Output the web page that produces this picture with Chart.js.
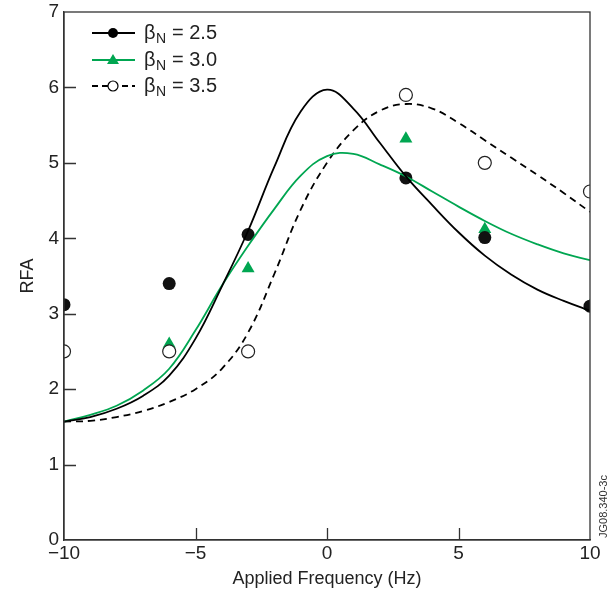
<!DOCTYPE html>
<html>
<head>
<meta charset="utf-8">
<script src="https://cdn.jsdelivr.net/npm/chart.js@4"></script>
<style>
  html, body { margin: 0; padding: 0; background: #fff; }
  #wrap { width: 615px; height: 599px; }
</style>
</head>
<body>
<div id="wrap"><canvas id="myChart"></canvas></div>
<script>
// measured points
var pointX = [-10, -6, -3, 3, 6, 10];
var beta25 = [3.12, 3.4, 4.05, 4.8, 4.01, 3.1];
var beta30 = [2.5, 2.6, 3.6, 5.32, 4.12, 3.1];
var beta35 = [2.5, 2.5, 2.5, 5.9, 5.0, 4.62];

// fitted curves
var curveX = [-10, -9, -8, -7, -6, -5, -4, -3, -2, -1, 0, 1, 2, 3, 4, 5, 6, 7, 8, 9, 10];
var fit25 = [1.57, 1.63, 1.74, 1.91, 2.18, 2.67, 3.36, 4.1, 4.95, 5.68, 5.97, 5.72, 5.27, 4.82, 4.44, 4.08, 3.77, 3.52, 3.32, 3.17, 3.04];
var fit30 = [1.57, 1.66, 1.78, 1.98, 2.27, 2.78, 3.37, 3.9, 4.39, 4.83, 5.09, 5.12, 4.98, 4.82, 4.62, 4.42, 4.23, 4.06, 3.92, 3.8, 3.71];
var fit35 = [1.57, 1.58, 1.63, 1.71, 1.83, 2.0, 2.27, 2.75, 3.53, 4.38, 5.0, 5.43, 5.69, 5.78, 5.72, 5.53, 5.3, 5.07, 4.84, 4.6, 4.35];

var legendLabels = ['2.5', '3.0', '3.5'];
var xTicks = [-10, -5, 0, 5, 10];
var yTicks = [0, 1, 2, 3, 4, 5, 6, 7];

var green = '#00a651';
var axisColor = '#333';
var fontFam = '"Liberation Sans", Arial, Helvetica, sans-serif';

function xy(xs, ys) {
  return xs.map(function(v, i) { return {x: v, y: ys[i]}; });
}

function minus(v) {
  return v < 0 ? '\u2212' + Math.abs(v) : String(v);
}

var framePlugin = {
  id: 'frame',
  afterDraw: function(chart) {
    var ctx = chart.ctx, a = chart.chartArea, x = chart.scales.x, y = chart.scales.y;
    ctx.save();
    ctx.strokeStyle = axisColor;
    ctx.lineWidth = 1.3;
    ctx.strokeRect(a.left, a.top, a.right - a.left, a.bottom - a.top);
    ctx.beginPath();
    yTicks.forEach(function(v) {
      if (v > 0 && v < 7) {
        var py = Math.round(y.getPixelForValue(v)) + 0.5;
        ctx.moveTo(a.left, py); ctx.lineTo(a.left + 12, py);
      }
    });
    xTicks.forEach(function(v) {
      if (v > -10 && v < 10) {
        var px = Math.round(x.getPixelForValue(v)) + 0.5;
        ctx.moveTo(px, a.bottom); ctx.lineTo(px, a.bottom - 12);
      }
    });
    ctx.stroke();

    // legend
    var rows = [
      {color: '#000', dash: [], style: 'dot'},
      {color: green, dash: [], style: 'tri'},
      {color: '#000', dash: [6, 4], style: 'open'}
    ];
    var ys = [33, 60, 86];
    rows.forEach(function(r, i) {
      var ly = ys[i];
      ctx.strokeStyle = r.color;
      ctx.lineWidth = 1.8;
      ctx.setLineDash(r.dash);
      ctx.beginPath();
      ctx.moveTo(92, ly); ctx.lineTo(135, ly);
      ctx.stroke();
      ctx.setLineDash([]);
      if (r.style === 'dot') {
        ctx.fillStyle = '#000';
        ctx.beginPath(); ctx.arc(113, ly, 5, 0, Math.PI * 2); ctx.fill();
      } else if (r.style === 'tri') {
        ctx.fillStyle = green;
        ctx.beginPath();
        ctx.moveTo(113, ly - 6); ctx.lineTo(119, ly + 4); ctx.lineTo(107, ly + 4);
        ctx.closePath(); ctx.fill();
      } else {
        ctx.fillStyle = '#fff';
        ctx.lineWidth = 1.2;
        ctx.beginPath(); ctx.arc(113, ly, 5, 0, Math.PI * 2); ctx.fill(); ctx.stroke();
      }
      ctx.fillStyle = '#222';
      ctx.textBaseline = 'middle';
      ctx.textAlign = 'left';
      ctx.font = '20px ' + fontFam;
      ctx.fillText('\u03b2', 144, ly);
      ctx.font = '14px ' + fontFam;
      ctx.fillText('N', 156, ly + 6);
      ctx.font = '20px ' + fontFam;
      ctx.fillText('= ' + legendLabels[i], 172, ly);
    });

    // figure code
    ctx.save();
    ctx.translate(604, 538);
    ctx.rotate(-Math.PI / 2);
    ctx.font = '11px ' + fontFam;
    ctx.fillStyle = '#333';
    ctx.textAlign = 'left';
    ctx.textBaseline = 'middle';
    ctx.fillText('JG08.340-3c', 0, 0);
    ctx.restore();
    ctx.restore();
  }
};

var chart = new Chart(document.getElementById('myChart'), {
  type: 'scatter',
  data: {
    datasets: [
      {type: 'line', data: xy(curveX, fit25), borderColor: '#000', borderWidth: 1.8, pointRadius: 0, tension: 0.4, fill: false},
      {type: 'line', data: xy(curveX, fit30), borderColor: green, borderWidth: 1.8, pointRadius: 0, tension: 0.4, fill: false},
      {type: 'line', data: xy(curveX, fit35), borderColor: '#000', borderWidth: 1.8, borderDash: [7, 5], pointRadius: 0, tension: 0.4, fill: false},
      {data: xy(pointX, beta35), pointStyle: 'circle', pointRadius: 6.5, backgroundColor: '#fff', borderColor: '#222', borderWidth: 1.2, clip: 0},
      {data: xy(pointX, beta25), pointStyle: 'circle', pointRadius: 6.5, backgroundColor: '#111', borderColor: '#111', borderWidth: 0, clip: 0},
      {data: xy(pointX, beta30), pointStyle: 'triangle', pointRadius: 7.5, backgroundColor: green, borderColor: green, borderWidth: 0, clip: 0}
    ]
  },
  options: {
    responsive: true,
    maintainAspectRatio: false,
    animation: false,
    layout: {padding: {top: 12, right: 25, left: 0, bottom: 0}},
    plugins: {legend: {display: false}, tooltip: {enabled: false}},
    scales: {
      x: {
        type: 'linear', min: -10, max: 10,
        afterFit: function(s) { s.height = 59; },
        afterBuildTicks: function(s) { s.ticks = xTicks.map(function(v) { return {value: v}; }); },
        grid: {display: false, drawTicks: false},
        border: {display: true, color: axisColor, width: 1.3},
        ticks: {padding: 2, color: '#222', font: {family: fontFam, size: 19}, callback: function(v) { return minus(v); }},
        title: {display: true, text: 'Applied Frequency (Hz)', color: '#222', font: {family: fontFam, size: 18}, padding: {top: 2, bottom: 9}}
      },
      y: {
        type: 'linear', min: 0, max: 7,
        afterFit: function(s) { s.width = 64; s.paddingTop = 0; s.paddingBottom = 0; },
        afterBuildTicks: function(s) { s.ticks = yTicks.map(function(v) { return {value: v}; }); },
        grid: {display: false, drawTicks: false},
        border: {display: true, color: axisColor, width: 1.3},
        ticks: {padding: 5, color: '#222', font: {family: fontFam, size: 19}},
        title: {display: true, text: 'RFA', color: '#222', font: {family: fontFam, size: 18}, padding: {top: 17, bottom: 0}}
      }
    }
  },
  plugins: [framePlugin]
});
</script>
</body>
</html>
